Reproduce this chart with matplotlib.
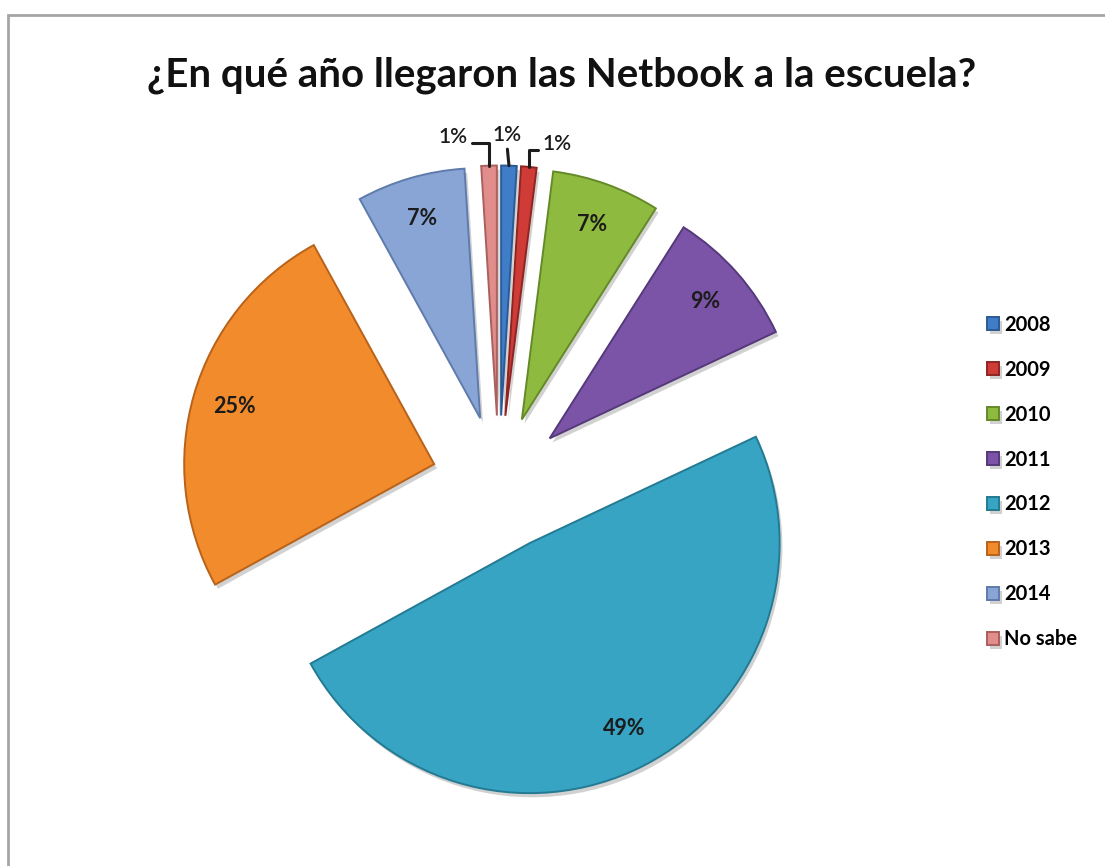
import matplotlib.pyplot as plt
import matplotlib.patheffects as pe
import numpy as np

plt.rcParams['font.family'] = ['Lato', 'DejaVu Sans']

# ---------- datos ----------
anios = ["2008", "2009", "2010", "2011", "2012", "2013", "2014", "No sabe"]
porcentajes = [1, 1, 7, 9, 49, 25, 7, 1]
colores = ["#3f7dc8", "#cf3b36", "#8fba40", "#7b54a8",
           "#37a4c3", "#f28b2b", "#88a5d6", "#e08d8b"]
bordes = ["#2b5a94", "#8e2522", "#648a28", "#55397a",
          "#237a93", "#b8621a", "#5f7bab", "#a9605e"]

TITULO = "¿En qué año llegaron las Netbook a la escuela?"

# escala: 250 px por unidad de radio, centro del pie en (499, 483) px
W, H = 1105, 866
R_PX = 250.0
CX, CY = 499.0, 483.0


def px(x, y):
    """pixeles (origen arriba-izq) -> coordenadas de datos del pie"""
    return (x - CX) / R_PX, (CY - y) / R_PX


fig = plt.figure(figsize=(W / 100, H / 100), dpi=100)
ax = fig.add_axes([0, 0, 1, 1])

wedges, texts, autotexts = ax.pie(
    porcentajes,
    colors=colores,
    startangle=90,
    counterclock=False,
    explode=[0.27] * len(porcentajes),
    autopct=lambda p: f"{p:.0f}%",
    pctdistance=0.83,
    wedgeprops=dict(linewidth=1.4),
    textprops=dict(fontsize=15.5, fontweight="bold", color="#1c1c1c"),
)

for w, ec in zip(wedges, bordes):
    w.set_edgecolor(ec)
    w.set_path_effects([
        pe.SimplePatchShadow(offset=(2, -3), shadow_rgbFace="#9a9a9a", alpha=0.45),
        pe.Normal(),
    ])

# etiquetas externas con líneas guía para las porciones de 1%
externas = {
    7: ((453, 137), (1.0, 0.2), "angle,angleA=0,angleB=90,rad=0"),
    0: ((507, 135), (0.5, 0.0), "arc3"),
    1: ((557, 144), (0.0, 0.2), "angle,angleA=0,angleB=90,rad=0"),
}
for i, (pos, relpos, estilo) in externas.items():
    autotexts[i].set_visible(False)
    w = wedges[i]
    th = np.deg2rad((w.theta1 + w.theta2) / 2)
    punta = (w.center[0] + w.r * np.cos(th), w.center[1] + w.r * np.sin(th))
    ax.annotate(
        f"{porcentajes[i]}%", xy=punta, xytext=px(*pos),
        ha="center", va="center", fontsize=15, fontweight="semibold",
        color="#1c1c1c",
        arrowprops=dict(arrowstyle="-", color="#1c1c1c", lw=2.2,
                        connectionstyle=estilo, relpos=relpos,
                        shrinkA=1, shrinkB=0),
    )

ax.set_xlim(-CX / R_PX, (W - CX) / R_PX)
ax.set_ylim(-(H - CY) / R_PX, CY / R_PX)
ax.axis("off")

ax.legend(
    wedges, anios,
    loc="center left", bbox_to_anchor=(987 / W, 1 - 482 / H),
    frameon=False, borderpad=0, borderaxespad=0,
    handlelength=0.6, handleheight=0.6, handletextpad=0.25,
    labelspacing=1.24,
    prop=dict(size=14.5, weight="bold"),
)

fig.text(562 / W, 1 - 75 / H, TITULO, ha="center", va="center",
         fontsize=29, fontweight="bold", color="#111111")

# marco del gráfico
fig.patches.append(plt.Rectangle(
    (8 / W, -0.05), 1.2, 1 - 15 / H + 0.05, transform=fig.transFigure,
    fill=False, edgecolor="#a6a6a6", linewidth=2, figure=fig))

fig.savefig("out.png", dpi=100, facecolor="white")
